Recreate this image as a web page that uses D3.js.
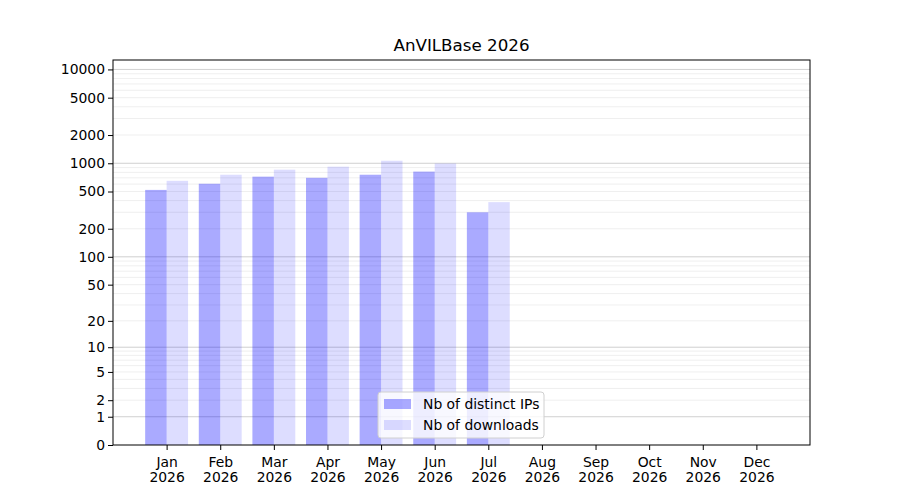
<!DOCTYPE html>
<html>
<head>
<meta charset="utf-8">
<script src="https://cdn.jsdelivr.net/npm/d3@7"></script>
<style>
  body { margin: 0; background: #fff; }
  svg, svg text { font-family: "DejaVu Sans", sans-serif; }
</style>
</head>
<body>
<div id="chart"></div>
<script>
// Data
const months = ['Jan', 'Feb', 'Mar', 'Apr', 'May', 'Jun', 'Jul', 'Aug', 'Sep', 'Oct', 'Nov', 'Dec'];
const year = '2026';
const distinctIPs = [520, 605, 720, 700, 755, 815, 300, 0, 0, 0, 0, 0];
const downloads = [650, 755, 855, 920, 1065, 995, 385, 0, 0, 0, 0, 0];
const yTicks = [0, 1, 2, 5, 10, 20, 50, 100, 200, 500, 1000, 2000, 5000, 10000];
const title = 'AnVILBase 2026';
const seriesNames = ['Nb of distinct IPs', 'Nb of downloads'];

// Dimensions
const width = 900, height = 500;
const margin = {top: 60, right: 90, bottom: 55, left: 113};
const fontSize = 13.9;

const svg = d3.select('#chart')
  .append('svg')
  .attr('width', width)
  .attr('height', height);

// Scales
const xScale = d3.scaleLinear()
  .domain([-1, months.length])
  .range([margin.left, width - margin.right]);

const yScale = d3.scaleSymlog()
  .constant(1)
  .domain([0, 12600])
  .range([height - margin.bottom, margin.top]);

// Grid lines: minor (2..9 x decade) and major (decades)
const minor = [];
const major = [];
for (let p = 0; p <= 4; p++) {
  const base = Math.pow(10, p);
  major.push(base);
  for (let m = 2; m <= 9; m++) {
    if (m * base <= 12600) minor.push(m * base);
  }
}

svg.append('g')
  .selectAll('line')
  .data(minor)
  .enter()
  .append('line')
  .attr('x1', margin.left)
  .attr('x2', width - margin.right)
  .attr('y1', d => yScale(d))
  .attr('y2', d => yScale(d))
  .attr('stroke', '#ebebeb')
  .attr('stroke-width', 0.8);

svg.append('g')
  .selectAll('line')
  .data(major)
  .enter()
  .append('line')
  .attr('x1', margin.left)
  .attr('x2', width - margin.right)
  .attr('y1', d => yScale(d))
  .attr('y2', d => yScale(d))
  .attr('stroke', '#c4c4c4')
  .attr('stroke-width', 0.8);

// Bars
const barW = 0.4;
svg.append('g')
  .selectAll('rect')
  .data(distinctIPs)
  .enter()
  .append('rect')
  .attr('x', (d, i) => xScale(i - barW))
  .attr('width', (d, i) => xScale(i) - xScale(i - barW))
  .attr('y', d => yScale(d))
  .attr('height', d => yScale(0) - yScale(d))
  .attr('fill', 'blue')
  .attr('fill-opacity', 0.333);

svg.append('g')
  .selectAll('rect')
  .data(downloads)
  .enter()
  .append('rect')
  .attr('x', (d, i) => xScale(i))
  .attr('width', (d, i) => xScale(i + barW) - xScale(i))
  .attr('y', d => yScale(d))
  .attr('height', d => yScale(0) - yScale(d))
  .attr('fill', 'blue')
  .attr('fill-opacity', 0.133);

// Frame
svg.append('rect')
  .attr('x', margin.left)
  .attr('y', margin.top)
  .attr('width', width - margin.left - margin.right)
  .attr('height', height - margin.top - margin.bottom)
  .attr('fill', 'none')
  .attr('stroke', '#000')
  .attr('stroke-width', 1);

// X axis
const xAxis = svg.append('g')
  .attr('transform', `translate(0,${height - margin.bottom})`)
  .call(d3.axisBottom(xScale)
    .tickValues(d3.range(months.length))
    .tickSize(5)
    .tickSizeOuter(0)
    .tickFormat(''));
xAxis.attr('font-family', '"DejaVu Sans", sans-serif').attr('font-size', fontSize);
xAxis.select('.domain').remove();
xAxis.selectAll('.tick line').attr('stroke', '#000');
xAxis.selectAll('.tick text').remove();
const xLabels = xAxis.selectAll('.tick')
  .append('text')
  .attr('fill', '#000')
  .attr('text-anchor', 'middle');
xLabels.append('tspan')
  .attr('x', 0)
  .attr('y', 21.5)
  .text((d) => months[d]);
xLabels.append('tspan')
  .attr('x', 0)
  .attr('y', 37)
  .text(year);

// Y axis
const yAxis = svg.append('g')
  .attr('transform', `translate(${margin.left},0)`)
  .call(d3.axisLeft(yScale)
    .tickValues(yTicks)
    .tickSize(5)
    .tickSizeOuter(0)
    .tickFormat(d3.format('d')));
yAxis.attr('font-family', '"DejaVu Sans", sans-serif').attr('font-size', fontSize);
yAxis.select('.domain').remove();
yAxis.selectAll('.tick line').attr('stroke', '#000');
yAxis.selectAll('.tick text')
  .attr('fill', '#000')
  .attr('x', -8);

// Title
svg.append('text')
  .attr('x', (margin.left + width - margin.right) / 2)
  .attr('y', margin.top - 9)
  .attr('text-anchor', 'middle')
  .attr('font-size', 16.7)
  .attr('fill', '#000')
  .text(title);

// Legend
const legend = svg.append('g')
  .attr('transform', 'translate(378,392)');
legend.append('rect')
  .attr('width', 166)
  .attr('height', 46)
  .attr('rx', 3)
  .attr('fill', '#fff')
  .attr('fill-opacity', 0.8)
  .attr('stroke', '#d0d0d0');
const items = legend.selectAll('.item')
  .data(seriesNames)
  .enter()
  .append('g')
  .attr('transform', (d, i) => `translate(6,${7 + i * 21})`);
items.append('rect')
  .attr('width', 27)
  .attr('height', 10)
  .attr('fill', 'blue')
  .attr('fill-opacity', (d, i) => i === 0 ? 0.333 : 0.133);
items.append('text')
  .attr('x', 39)
  .attr('y', 10)
  .attr('font-size', fontSize)
  .attr('fill', '#000')
  .text(d => d);
</script>
</body>
</html>
